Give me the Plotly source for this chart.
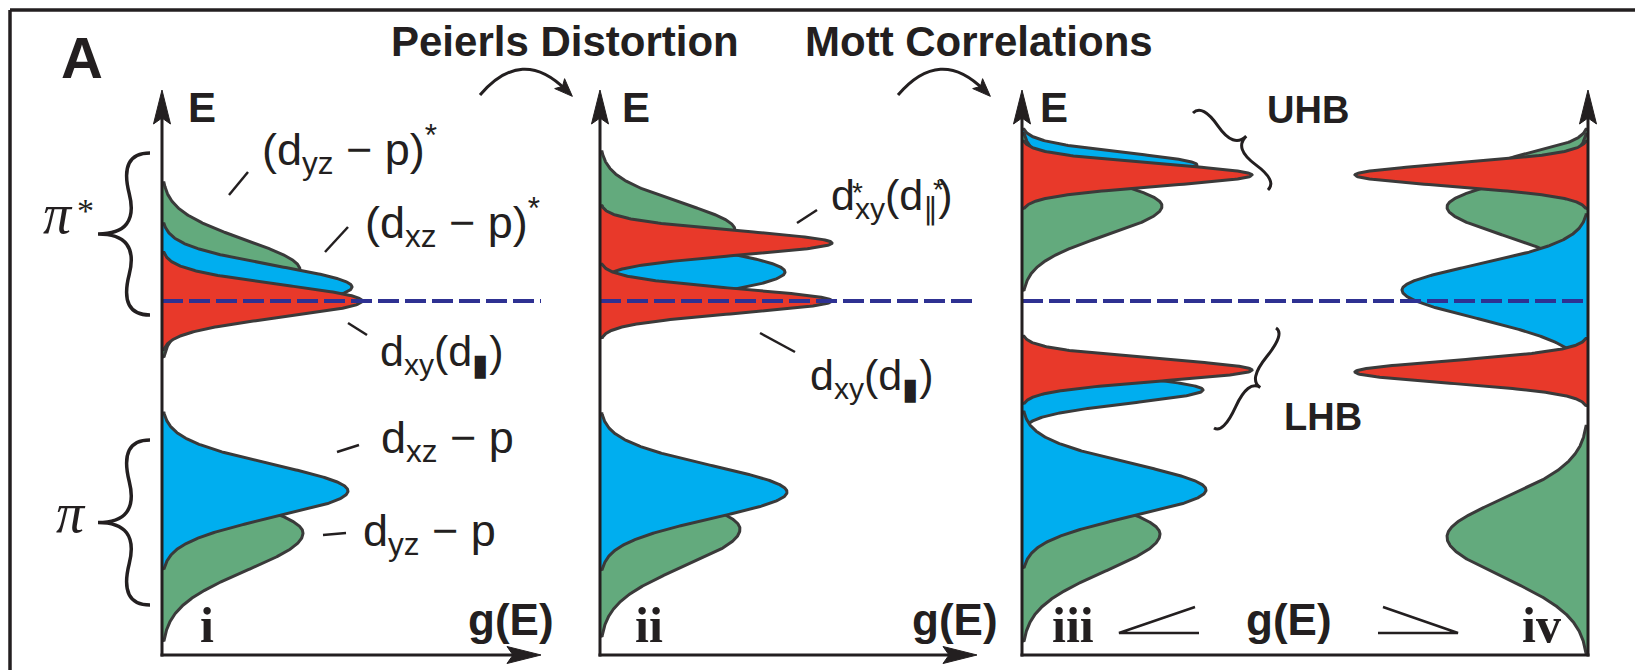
import numpy as np
import plotly.graph_objects as go

W, H = 1635, 670

# ---------------- data (schematic densities of states) ----------------
E_RANGE = [-3.54, 2.11]       # energy axis, Fermi level at E = 0
FERMI_E = 0.0
G_MAX = {"i": 3.79, "ii": 3.77, "iii": 5.66}   # g(E) axis lengths

# Panel i : undistorted
i_colors = ["green", "blue", "red", "green", "blue"]
i_center = [0.31, 0.14, 0.00, -2.32, -1.90]
i_height = [1.38, 1.90, 2.00, 1.41, 1.86]
i_sig_up = [0.30, 0.21, 0.16, 0.30, 0.26]
i_sig_dn = [0.30, 0.21, 0.16, 0.37, 0.26]

# Panel ii : Peierls distortion
ii_colors = ["green", "blue", "red", "red", "green", "blue"]
ii_center = [0.71, 0.29, 0.58, 0.00, -2.28, -1.91]
ii_height = [1.35, 1.85, 2.32, 2.32, 1.40, 1.87]
ii_sig_up = [0.27, 0.22, 0.12, 0.12, 0.30, 0.26]
ii_sig_dn = [0.27, 0.22, 0.12, 0.12, 0.37, 0.26]

# Panel iii : Mott correlations (left side)
iii_colors = ["blue", "green", "red", "blue", "red", "green", "blue"]
iii_center = [1.36, 0.95, 1.26, -0.89, -0.69, -2.33, -1.89]
iii_height = [1.75, 1.40, 2.30, 1.81, 2.30, 1.38, 1.84]
iii_sig_up = [0.12, 0.25, 0.11, 0.13, 0.11, 0.30, 0.26]
iii_sig_dn = [0.14, 0.29, 0.11, 0.13, 0.11, 0.37, 0.26]

# Panel iv : mirrored on the right side
iv_colors = ["green", "green", "blue", "red", "red", "green"]
iv_center = [1.36, 0.94, 0.11, 1.26, -0.71, -2.36]
iv_height = [0.90, 1.41, 1.86, 2.33, 2.33, 1.41]
iv_sig_up = [0.13, 0.25, 0.25, 0.11, 0.11, 0.38]
iv_sig_dn = [0.15, 0.28, 0.28, 0.11, 0.11, 0.40]

# ---------------- style ----------------
FILL = {"green": "#63AA7D", "blue": "#00AEEF", "red": "#E8392A"}
OUTLINE = "#3A3A3A"
INK = "#231F20"
NAVY = "#2E3192"
SANS = "Liberation Sans, Arial, sans-serif"
SERIF = "Liberation Serif, Times New Roman, serif"

# panel geometry in pixels (layout)
PX = {"i": (162, 541), "ii": (600, 977), "iii": (1022, 1588)}
Y_TOP, Y_BOT = 90, 655


def fx(x):
    return x / W


def fy(y):
    return 1 - y / H


def P(x, y):
    return f"{fx(x):.5f},{fy(y):.5f}"


fig = go.Figure()

axis_ids = {"i": ("x", "y"), "ii": ("x2", "y2"), "iii": ("x3", "y3")}


def band(panel, color, c, h, su, sd, mirror=False):
    E = np.linspace(E_RANGE[0], E_RANGE[1], 1500)
    s = np.where(E >= c, su, sd)
    g = h * np.exp(-0.5 * ((E - c) / s) ** 2)
    keep = g > 0.02
    E, g = E[keep], g[keep]
    xs = np.concatenate([[0], g, [0]])
    ys = np.concatenate([[E[0]], E, [E[-1]]])
    if mirror:
        xs = G_MAX["iii"] - xs
    xa, ya = axis_ids[panel]
    fig.add_trace(go.Scatter(
        x=xs, y=ys, mode="lines", fill="toself", fillcolor=FILL[color],
        line=dict(color=OUTLINE, width=3), hoverinfo="skip",
        xaxis=xa, yaxis=ya, showlegend=False))


for args in zip(i_colors, i_center, i_height, i_sig_up, i_sig_dn):
    band("i", *args)
for args in zip(ii_colors, ii_center, ii_height, ii_sig_up, ii_sig_dn):
    band("ii", *args)
for args in zip(iii_colors, iii_center, iii_height, iii_sig_up, iii_sig_dn):
    band("iii", *args)
for args in zip(iv_colors, iv_center, iv_height, iv_sig_up, iv_sig_dn):
    band("iii", *args, mirror=True)

shapes = []
annotations = []

# Fermi level dashed lines (data coordinates)
for p in ["i", "ii", "iii"]:
    xa, ya = axis_ids[p]
    shapes.append(dict(type="line", xref=xa, yref=ya, x0=0, x1=G_MAX[p],
                       y0=FERMI_E, y1=FERMI_E,
                       line=dict(color=NAVY, width=4, dash="21px,6px")))


def line(x0, y0, x1, y1, w=3, color=INK):
    shapes.append(dict(type="line", xref="paper", yref="paper",
                       x0=fx(x0), y0=fy(y0), x1=fx(x1), y1=fy(y1),
                       line=dict(color=color, width=w)))


def poly(pts, color=INK):
    path = "M " + " L ".join(P(*q) for q in pts) + " Z"
    shapes.append(dict(type="path", xref="paper", yref="paper", path=path,
                       fillcolor=color, line=dict(color=color, width=1)))


def up_arrow(x):
    line(x, Y_BOT + 1.5, x, Y_TOP + 25, 3)
    poly([(x, Y_TOP), (x - 8.5, Y_TOP + 34), (x, Y_TOP + 28), (x + 8.5, Y_TOP + 34)])


def right_arrow(x0, x1, y):
    line(x0 - 1.5, y, x1 - 25, y, 3)
    poly([(x1, y), (x1 - 34, y - 8.5), (x1 - 28, y), (x1 - 34, y + 8.5)])


# outer frame
line(10, 10, W, 10, 3.5)
line(10, 10, 10, H, 3.5)

# axes
up_arrow(PX["i"][0])
right_arrow(PX["i"][0], PX["i"][1], Y_BOT)
up_arrow(PX["ii"][0])
right_arrow(PX["ii"][0], PX["ii"][1], Y_BOT)
up_arrow(PX["iii"][0])
up_arrow(PX["iii"][1])
line(PX["iii"][0] - 1.5, Y_BOT, PX["iii"][1] + 1.5, Y_BOT, 3)


# curved transition arrows
def curved_arrow(x0, y0, cx, cy, x1, y1):
    path = f"M {P(x0, y0)} Q {P(cx, cy)} {P(x1, y1)}"
    shapes.append(dict(type="path", xref="paper", yref="paper", path=path,
                       line=dict(color=INK, width=3)))
    d = np.array([x1 - cx, y1 - cy], float)
    d /= np.hypot(*d)
    n = np.array([-d[1], d[0]])
    tip = np.array([x1, y1]) + 9 * d
    base = np.array([x1, y1]) - 9 * d
    poly([tuple(tip), tuple(base + 7 * n), tuple(base + 4 * d), tuple(base - 7 * n)])


curved_arrow(480, 95, 522, 46, 566, 90)
curved_arrow(898, 95, 940, 46, 984, 90)


# curly braces
def brace(x1, y1, x2, y2, w, q=0.6, width=3.5):
    dx, dy = x1 - x2, y1 - y2
    L = np.hypot(dx, dy)
    dx, dy = dx / L, dy / L
    qx1, qy1 = x1 + q * w * dy, y1 - q * w * dx
    qx2, qy2 = (x1 - .25 * L * dx) + (1 - q) * w * dy, (y1 - .25 * L * dy) - (1 - q) * w * dx
    tx, ty = (x1 - .5 * L * dx) + w * dy, (y1 - .5 * L * dy) - w * dx
    qx3, qy3 = x2 + q * w * dy, y2 - q * w * dx
    qx4, qy4 = (x1 - .75 * L * dx) + (1 - q) * w * dy, (y1 - .75 * L * dy) - (1 - q) * w * dx
    path = (f"M {P(x1, y1)} Q {P(qx1, qy1)} {P(qx2, qy2)} T {P(tx, ty)} "
            f"M {P(x2, y2)} Q {P(qx3, qy3)} {P(qx4, qy4)} T {P(tx, ty)}")
    shapes.append(dict(type="path", xref="paper", yref="paper", path=path,
                       line=dict(color=INK, width=width)))


brace(150, 153, 150, 315, 52)
brace(150, 440, 150, 605, 52)
brace(1268, 190, 1193, 113, 22, width=3)
brace(1214, 428, 1276, 328, 18, width=3)

# "<" and ">" between iii and iv
shapes.append(dict(type="path", xref="paper", yref="paper",
                   path=f"M {P(1195, 607)} L {P(1119, 633)} L {P(1199, 633)}",
                   line=dict(color=INK, width=2.5)))
shapes.append(dict(type="path", xref="paper", yref="paper",
                   path=f"M {P(1383, 607)} L {P(1458, 633)} L {P(1378, 633)}",
                   line=dict(color=INK, width=2.5)))

# leader lines
for (a, b, c, d) in [(229, 195, 248, 172), (325, 252, 348, 227), (348, 323, 367, 335),
                     (337, 452, 359, 445), (323, 535, 346, 533), (797, 223, 817, 210),
                     (760, 333, 795, 352)]:
    line(a, b, c, d, 2.5)


def txt(s, x, y, size, family=SANS, xanchor="left", yanchor="middle"):
    annotations.append(dict(text=s, x=fx(x), y=fy(y), xref="paper", yref="paper",
                            xanchor=xanchor, yanchor=yanchor, showarrow=False,
                            font=dict(size=size, family=family, color=INK)))


txt("(d<sub>yz</sub> − p)<sup>*</sup>", 260, 149, 45)
txt("(d<sub>xz</sub> − p)<sup>*</sup>", 363, 222, 45)
txt("d<sub>xy</sub>(d<sub>▮</sub>)", 378, 354, 43)
txt("d<sub>xz</sub> − p", 379, 440, 45)
txt("d<sub>yz</sub> − p", 361, 533, 45)
txt("d<sub>xy</sub>(d<sub>∥</sub>)", 829, 198, 43)
txt("*", 857, 193, 28, xanchor="center")
txt("*", 938, 190, 28, xanchor="center")
txt("d<sub>xy</sub>(d<sub>▮</sub>)", 808, 378, 43)

txt("<b>Peierls Distortion</b>", 389, 42, 42)
txt("<b>Mott Correlations</b>", 803, 42, 42)
txt("<b>A</b>", 59, 57, 58)

for x in (186, 620, 1038):
    txt("<b>E</b>", x, 107, 42)
for x in (466, 910, 1244):
    txt("<b>g(E)</b>", x, 619, 44)

txt("<b>i</b>", 198, 625, 50, SERIF)
txt("<b>ii</b>", 633, 625, 50, SERIF)
txt("<b>iii</b>", 1050, 625, 50, SERIF)
txt("<b>iv</b>", 1520, 625, 50, SERIF)

txt("<b>UHB</b>", 1265, 110, 38)
txt("<b>LHB</b>", 1282, 417, 38)

txt("<i>π</i>", 41, 214, 56, SERIF)
txt("*", 85, 210, 34, SERIF, xanchor="center")
txt("<i>π</i>", 54, 513, 56, SERIF)

layout = dict(
    width=W, height=H, margin=dict(l=0, r=0, t=0, b=0),
    paper_bgcolor="white", plot_bgcolor="rgba(0,0,0,0)",
    showlegend=False, shapes=shapes, annotations=annotations,
)
ydom = [fy(Y_BOT), fy(Y_TOP)]
for p, (xa, ya) in axis_ids.items():
    xk = "xaxis" + xa[1:]
    yk = "yaxis" + ya[1:]
    layout[xk] = dict(domain=[fx(PX[p][0]), fx(PX[p][1])], range=[0, G_MAX[p]],
                      visible=False, fixedrange=True, anchor=ya)
    layout[yk] = dict(domain=ydom, range=E_RANGE, visible=False,
                      fixedrange=True, anchor=xa)
fig.update_layout(**layout)
fig.write_html("out.html")
